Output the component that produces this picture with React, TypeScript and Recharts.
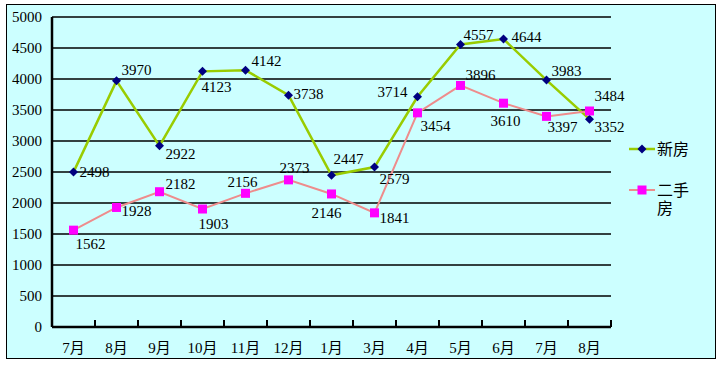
import { LineChart, Line, XAxis, YAxis, CartesianGrid, LabelList } from "recharts";

const months = ["7月", "8月", "9月", "10月", "11月", "12月", "1月", "3月", "4月", "5月", "6月", "7月", "8月"];
const newHome = [2498, 3970, 2922, 4123, 4142, 3738, 2447, 2579, 3714, 4557, 4644, 3983, 3352];
const resale = [1562, 1928, 2182, 1903, 2156, 2373, 2146, 1841, 3454, 3896, 3610, 3397, 3484];
const yTicks = [0, 500, 1000, 1500, 2000, 2500, 3000, 3500, 4000, 4500, 5000];

// label offsets (text start / baseline) relative to each point
const newLabelPos = [
  [6, 5], [5, -6], [6, 13], [-1, 21], [6, -4], [5, 4], [2, -11],
  [5, 17], [-40, 0], [3, -4], [8, 3], [5, -4], [5, 13],
];
const resaleLabelPos = [
  [2, 19], [5, 9], [6, -3], [-4, 20], [-18, -6], [-9, -7], [-20, 24],
  [5, 10], [3, 18], [5, -5], [-13, 23], [1, 16], [5, -10],
];

const data = months.map((m, i) => ({ month: m, newHome: newHome[i], resale: resale[i] }));

const BG = "#CCFFFF";
const GREEN = "#99CC00";
const NAVY = "#000080";
const PINK = "#EE8C8C";
const MAGENTA = "#FF00FF";
const FONT = '"Liberation Serif", "Noto Sans CJK SC", serif';
const HALF_BAND = 21.5;

const Diamond = (props: any) => {
  const { cx, cy } = props;
  if (cx == null || cy == null) return null;
  const r = 4.5;
  return <polygon points={`${cx},${cy - r} ${cx + r},${cy} ${cx},${cy + r} ${cx - r},${cy}`} fill={NAVY} />;
};

const Square = (props: any) => {
  const { cx, cy } = props;
  if (cx == null || cy == null) return null;
  return <rect x={cx - 4.5} y={cy - 4.5} width={9} height={9} fill={MAGENTA} />;
};

const makeLabel = (pos: number[][]) => (props: any) => {
  const { x, y, value, index } = props;
  const [dx, dy] = pos[index] || [5, 5];
  return (
    <text x={x + dx} y={y + dy} fontSize={15} fontFamily={FONT} fill="#000">
      {value}
    </text>
  );
};

const XTick = (props: any) => {
  const { x, y, payload } = props;
  return (
    <g>
      <line x1={x + HALF_BAND} y1={327} x2={x + HALF_BAND} y2={320} stroke="#000" strokeWidth={2} />
      <text x={x} y={y + 18} textAnchor="middle" fontSize={15} fontFamily={FONT} fill="#000">
        {payload.value}
      </text>
    </g>
  );
};

const YTick = (props: any) => {
  const { y, payload } = props;
  return (
    <text x={42} y={y + 5} textAnchor="end" fontSize={15} fontFamily={FONT} fill="#000">
      {payload.value}
    </text>
  );
};

export default function App() {
  return (
    <div style={{ position: "absolute", left: 0, top: 0, width: 721, height: 367, background: "#fff" }}>
      <div
        style={{
          position: "absolute",
          left: 6,
          top: 4,
          width: 708,
          height: 353,
          background: BG,
          border: "1.5px solid #000",
        }}
      />
      <div style={{ position: "absolute", left: 0, top: 0 }}>
        <LineChart width={721} height={367} data={data} margin={{ top: 17, right: 110, bottom: 0, left: 0 }}>
          <CartesianGrid vertical={false} stroke="#000" strokeWidth={1.3} />
          <XAxis
            dataKey="month"
            height={40}
            interval={0}
            padding={{ left: HALF_BAND, right: HALF_BAND }}
            stroke="#000"
            strokeWidth={2.5}
            tickLine={false}
            tick={<XTick />}
          />
          <YAxis
            width={52}
            domain={[0, 5000]}
            ticks={yTicks}
            stroke="#000"
            strokeWidth={2.5}
            tickLine={false}
            tick={<YTick />}
          />
          <Line
            dataKey="newHome"
            type="linear"
            stroke={GREEN}
            strokeWidth={2.5}
            dot={<Diamond />}
            activeDot={false}
            isAnimationActive={false}
          >
            <LabelList dataKey="newHome" content={makeLabel(newLabelPos)} />
          </Line>
          <Line
            dataKey="resale"
            type="linear"
            stroke={PINK}
            strokeWidth={2}
            dot={<Square />}
            activeDot={false}
            isAnimationActive={false}
          >
            <LabelList dataKey="resale" content={makeLabel(resaleLabelPos)} />
          </Line>
        </LineChart>
      </div>
      <svg style={{ position: "absolute", left: 620, top: 130 }} width={95} height={95}>
        <line x1={9} y1={19} x2={35} y2={19} stroke={GREEN} strokeWidth={2.5} />
        <polygon points="22,14.5 26.5,19 22,23.5 17.5,19" fill={NAVY} />
        <text x={37} y={25} fontSize={16} fontFamily={FONT} fill="#000">新房</text>
        <line x1={9} y1={60} x2={35} y2={60} stroke={PINK} strokeWidth={2} />
        <rect x={17.5} y={55.5} width={9} height={9} fill={MAGENTA} />
        <text x={37} y={66} fontSize={16} fontFamily={FONT} fill="#000">二手</text>
        <text x={37} y={84} fontSize={16} fontFamily={FONT} fill="#000">房</text>
      </svg>
    </div>
  );
}
